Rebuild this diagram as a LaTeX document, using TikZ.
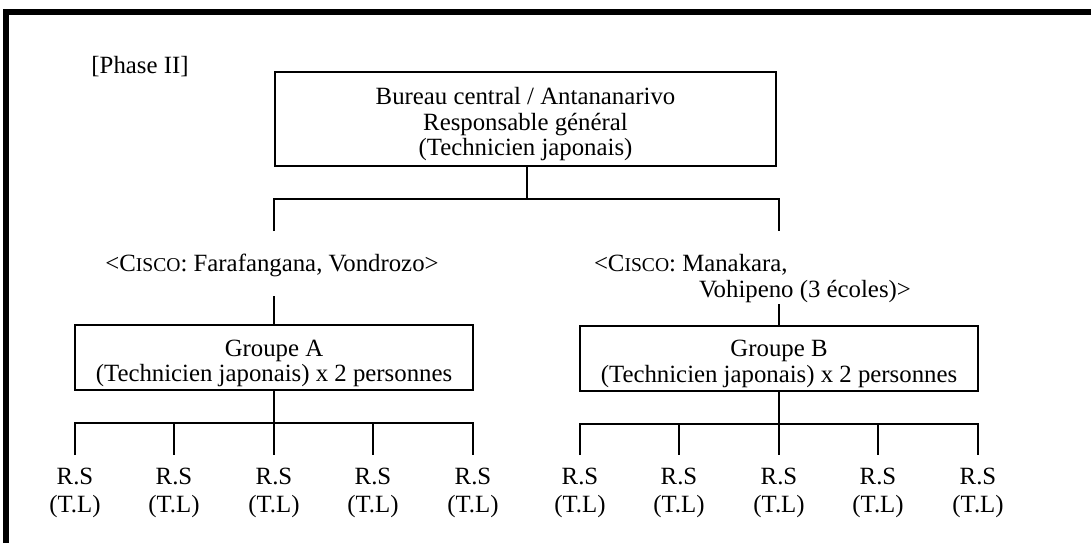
\documentclass[tikz,border=0pt]{standalone}
\usepackage{fontspec}
\setmainfont{Liberation Serif}
\newcommand{\cisco}{C{\fontsize{9.8}{10}\selectfont ISCO}}

\begin{document}
\begin{tikzpicture}[x=0.5pt, y=-0.5pt, line width=1pt,
        every node/.style={font=\fontsize{12.4}{12.75}\selectfont},
        unit/.style={draw, line width=1pt, align=center, inner sep=0pt},
        leaf/.style={align=center, anchor=north, inner xsep=0pt, inner ysep=6pt, font=\fontsize{12.4}{14}\selectfont}]
    \useasboundingbox (0,0) rectangle (1091,543);
    \draw[line width=3pt] (5.5,543) -- (5.5,11.5) -- (1091,11.5);
    \node (phase) at (140,67) {[Phase II]};
    \node[unit, minimum width=250.5pt, minimum height=47pt, text height=39.5pt] (bur) at (525.5,119)
        {Bureau central / Antananarivo\\Responsable général\\(Technicien japonais)};
    \node[anchor=base] (ciscoA) at (272,271) {<\cisco: Farafangana, Vondrozo>};
    \node[anchor=base west, align=left, inner sep=0pt] (ciscoB) at (593,297)
        {<\cisco: Manakara,\\\hspace*{52.5pt}Vohipeno (3 écoles)>};
    \node[unit, minimum width=199pt, minimum height=32.5pt, text height=27pt] (grpA) at (274,357.5)
        {Groupe A\\(Technicien japonais) x 2 personnes};
    \node[unit, minimum width=199pt, minimum height=32.5pt, text height=27pt] (grpB) at (779,358)
        {Groupe B\\(Technicien japonais) x 2 personnes};
    \coordinate (jtop) at (527,199);
    \coordinate (uA) at (274,231);
    \coordinate (uB) at (779,231);
    \coordinate (lA) at (274,296);
    \coordinate (lB) at (779,304);
    \draw (bur.south -| jtop) -- (jtop);
    \draw (uA) |- (jtop) -| (uB);
    \draw (lA) -- (grpA.north);
    \draw (lB) -- (grpB.north);
    \coordinate (jA) at (274,423);
    \coordinate (jB) at (779,424);
    \foreach \x [count=\i] in {75,174,274,373,473}
        \node[leaf] (rsA\i) at (\x,455) {R.S\\(T.L)};
    \foreach \x [count=\i] in {580,679,779,878,978}
        \node[leaf] (rsB\i) at (\x,455) {R.S\\(T.L)};
    \draw (grpA.south) -- (jA);
    \draw (grpB.south) -- (jB);
    \draw (rsA1.north) |- (jA) -| (rsA5.north);
    \draw (rsB1.north) |- (jB) -| (rsB5.north);
    \foreach \i in {2,3,4} {
        \draw (rsA\i.north |- jA) -- (rsA\i.north);
        \draw (rsB\i.north |- jB) -- (rsB\i.north);
    }
\end{tikzpicture}
\end{document}
